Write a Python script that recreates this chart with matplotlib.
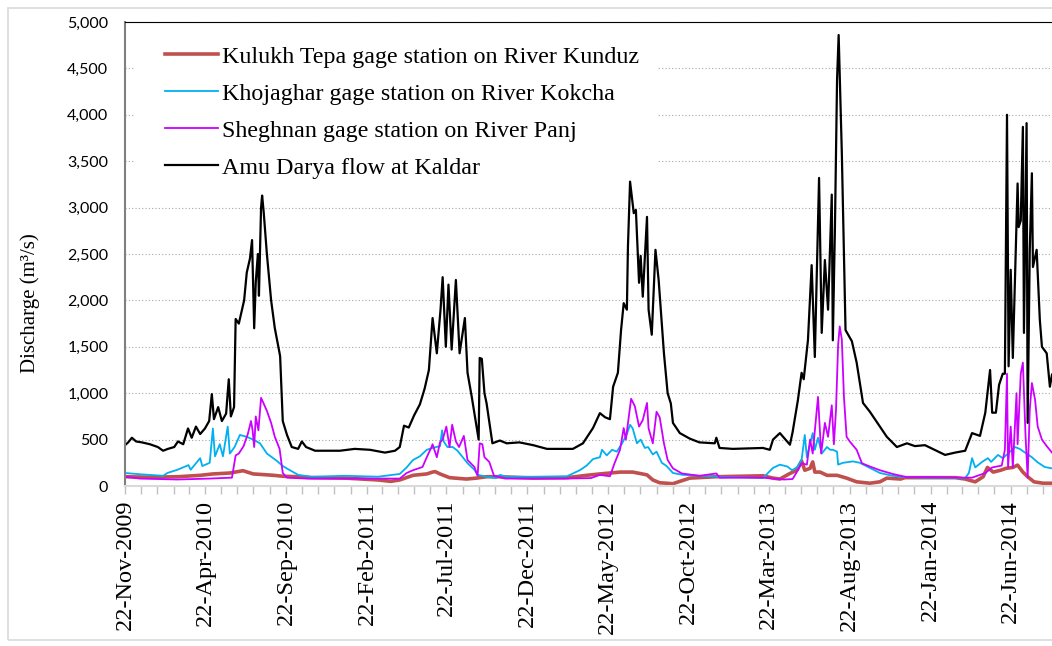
import matplotlib
matplotlib.use("Agg")
import matplotlib.dates as mdates
import matplotlib.pyplot as plt
import pandas as pd
from matplotlib.patches import Rectangle
from matplotlib.ticker import FuncFormatter, MultipleLocator

# Amu Darya flow at Kaldar (m3/s)
kaldar_dates = [
    "2009-11-22", "2009-11-28", "2009-12-05", "2009-12-13", "2009-12-24", "2010-01-08",
    "2010-01-23", "2010-02-02", "2010-02-11", "2010-02-23", "2010-03-02", "2010-03-12",
    "2010-03-21", "2010-03-28", "2010-04-05", "2010-04-13", "2010-04-22", "2010-04-30",
    "2010-05-05", "2010-05-09", "2010-05-17", "2010-05-24", "2010-06-01", "2010-06-06",
    "2010-06-10", "2010-06-16", "2010-06-19", "2010-06-25", "2010-07-05", "2010-07-10",
    "2010-07-16", "2010-07-20", "2010-07-24", "2010-07-27", "2010-07-31", "2010-08-02",
    "2010-08-06", "2010-08-08", "2010-08-11", "2010-08-17", "2010-08-25", "2010-09-01",
    "2010-09-11", "2010-09-16", "2010-09-24", "2010-10-03", "2010-10-15", "2010-10-22",
    "2010-10-30", "2010-11-16", "2011-01-02", "2011-01-30", "2011-02-28", "2011-03-28",
    "2011-04-16", "2011-04-25", "2011-05-03", "2011-05-12", "2011-05-22", "2011-06-02",
    "2011-06-11", "2011-06-19", "2011-06-26", "2011-07-04", "2011-07-11", "2011-07-15",
    "2011-07-21", "2011-07-26", "2011-08-01", "2011-08-09", "2011-08-16", "2011-08-26",
    "2011-08-31", "2011-09-08", "2011-09-21", "2011-09-23", "2011-09-27", "2011-10-02",
    "2011-10-06", "2011-10-17", "2011-10-31", "2011-11-13", "2011-12-07", "2012-01-02",
    "2012-01-28", "2012-03-17", "2012-04-05", "2012-04-24", "2012-05-07", "2012-05-17",
    "2012-05-26", "2012-06-01", "2012-06-10", "2012-06-16", "2012-06-21", "2012-06-27",
    "2012-06-29", "2012-07-03", "2012-07-10", "2012-07-14", "2012-07-20", "2012-07-23",
    "2012-07-27", "2012-08-04", "2012-08-07", "2012-08-13", "2012-08-20", "2012-08-26",
    "2012-09-05", "2012-09-12", "2012-09-18", "2012-09-22", "2012-10-05", "2012-10-24",
    "2012-11-11", "2012-12-10", "2012-12-13", "2012-12-19", "2013-01-13", "2013-03-11",
    "2013-03-24", "2013-03-30", "2013-04-12", "2013-05-01", "2013-05-06", "2013-05-16",
    "2013-05-23", "2013-05-27", "2013-06-04", "2013-06-11", "2013-06-17", "2013-06-25",
    "2013-06-30", "2013-07-06", "2013-07-12", "2013-07-19", "2013-07-21", "2013-07-25",
    "2013-07-29", "2013-08-01", "2013-08-07", "2013-08-14", "2013-08-26", "2013-09-04",
    "2013-09-16", "2013-09-29", "2013-10-18", "2013-10-31", "2013-11-19", "2013-12-08",
    "2013-12-23", "2014-01-11", "2014-02-18", "2014-03-09", "2014-03-28", "2014-04-10",
    "2014-04-25", "2014-05-05", "2014-05-14", "2014-05-18", "2014-05-25", "2014-05-31",
    "2014-06-07", "2014-06-11", "2014-06-15", "2014-06-18", "2014-06-22", "2014-06-26",
    "2014-07-05", "2014-07-07", "2014-07-11", "2014-07-15", "2014-07-17", "2014-07-22",
    "2014-07-24", "2014-07-28", "2014-08-01", "2014-08-03", "2014-08-10", "2014-08-16",
    "2014-08-20", "2014-08-29", "2014-09-04", "2014-09-08",
]
kaldar_q = [
    440, 470, 520, 480, 470, 450,
    420, 380, 400, 420, 480, 450,
    620, 520, 640, 560, 620, 700,
    990, 720, 850, 700, 780, 1150,
    750, 850, 1800, 1750, 2000, 2300,
    2450, 2650, 1700, 2200, 2500, 2050,
    3000, 3130, 2950, 2500, 2000, 1700,
    1400, 700, 550, 420, 400, 480,
    420, 380, 380, 400, 390, 360,
    380, 420, 650, 630, 760, 880,
    1050, 1250, 1810, 1430, 1900, 2250,
    1500, 2170, 1470, 2220, 1430, 1810,
    1220, 960, 500, 1380, 1370, 1000,
    890, 460, 490, 460, 470, 440,
    400, 400, 460, 625, 785, 740,
    720, 1070, 1220, 1680, 1970, 1900,
    2580, 3280, 2940, 2975, 2190, 2480,
    2040, 2900, 1900, 1630, 2545, 2220,
    1430, 1000, 890, 680, 570, 510,
    470, 460, 520, 410, 400, 410,
    390, 500, 570, 445, 580, 925,
    1220, 1150, 1570, 2380, 1390, 3320,
    1650, 2435, 1900, 3140, 1570, 2790,
    4380, 4860, 3590, 1680, 1560, 1330,
    895, 800, 640, 530, 420, 460,
    430, 440, 335, 360, 380, 570,
    540, 790, 1250, 790, 790, 1090,
    1210, 1210, 4000, 1290, 2330, 1380,
    3260, 2790, 2860, 3870, 1650, 3910,
    680, 2545, 3370, 2360, 2545, 1790,
    1500, 1430, 1070, 1200,
]

# Sheghnan gage station on River Panj
panj_dates = [
    "2009-11-22", "2009-12-20", "2010-03-01", "2010-05-01", "2010-06-12", "2010-06-19",
    "2010-06-25", "2010-07-04", "2010-07-12", "2010-07-18", "2010-07-21", "2010-07-24",
    "2010-07-27", "2010-08-01", "2010-08-06", "2010-08-10", "2010-08-17", "2010-08-25",
    "2010-09-01", "2010-09-10", "2010-09-16", "2010-09-24", "2010-11-01", "2011-02-01",
    "2011-04-25", "2011-05-08", "2011-05-20", "2011-06-07", "2011-06-15", "2011-06-24",
    "2011-06-26", "2011-07-04", "2011-07-10", "2011-07-15", "2011-07-22", "2011-07-28",
    "2011-08-02", "2011-08-09", "2011-08-15", "2011-08-24", "2011-08-31", "2011-09-13",
    "2011-09-19", "2011-09-23", "2011-09-28", "2011-10-02", "2011-10-11", "2011-10-20",
    "2011-11-10", "2012-03-01", "2012-04-20", "2012-05-07", "2012-05-26", "2012-06-04",
    "2012-06-14", "2012-06-21", "2012-06-25", "2012-07-05", "2012-07-12", "2012-07-20",
    "2012-07-27", "2012-08-04", "2012-08-07", "2012-08-15", "2012-08-22", "2012-08-28",
    "2012-09-05", "2012-09-12", "2012-09-22", "2012-10-09", "2012-11-11", "2012-12-13",
    "2012-12-19", "2013-03-11", "2013-04-20", "2013-05-06", "2013-05-16", "2013-05-23",
    "2013-06-02", "2013-06-08", "2013-06-13", "2013-06-23", "2013-06-29", "2013-07-06",
    "2013-07-12", "2013-07-19", "2013-07-23", "2013-07-27", "2013-07-31", "2013-08-03",
    "2013-08-07", "2013-08-11", "2013-08-16", "2013-08-22", "2013-09-04", "2013-09-14",
    "2013-09-29", "2013-10-18", "2013-11-11", "2013-12-08", "2014-01-11", "2014-03-28",
    "2014-04-10", "2014-05-05", "2014-05-18", "2014-06-05", "2014-06-11", "2014-06-15",
    "2014-06-17", "2014-06-22", "2014-06-26", "2014-07-03", "2014-07-05", "2014-07-11",
    "2014-07-15", "2014-07-20", "2014-07-24", "2014-07-28", "2014-08-01", "2014-08-07",
    "2014-08-12", "2014-08-20", "2014-08-29", "2014-09-08",
]
panj_q = [
    100, 80, 70, 80, 90, 330,
    350, 430, 560, 700, 600, 420,
    750, 600, 950, 900, 810, 680,
    530, 400, 140, 90, 80, 80,
    80, 140, 170, 205, 310, 420,
    450, 310, 470, 500, 640, 420,
    660, 480, 420, 540, 280, 205,
    110, 460, 450, 310, 260, 110,
    80, 80, 85, 120, 105, 250,
    390, 625, 500, 940, 860, 640,
    710, 895, 620, 460, 800, 740,
    460, 280, 190, 135, 110, 135,
    90, 90, 70, 75, 170, 245,
    230, 500, 350, 960, 350, 680,
    530, 870, 450, 820, 1520, 1720,
    1580, 960, 530, 480, 390, 245,
    210, 170, 130, 95, 95, 90,
    90, 140, 200, 220, 390, 1210,
    200, 640, 200, 1000, 450, 1210,
    1330, 540, 90, 820, 1110, 930,
    640, 500, 430, 360,
]

# Khojaghar gage station on River Kokcha
kokcha_dates = [
    "2009-11-22", "2009-12-24", "2010-02-02", "2010-02-10", "2010-03-01", "2010-03-22",
    "2010-03-26", "2010-04-13", "2010-04-17", "2010-05-01", "2010-05-07", "2010-05-11",
    "2010-05-20", "2010-05-26", "2010-06-04", "2010-06-08", "2010-06-17", "2010-06-27",
    "2010-07-10", "2010-07-22", "2010-08-04", "2010-08-17", "2010-09-05", "2010-09-16",
    "2010-09-28", "2010-10-15", "2010-11-09", "2011-01-12", "2011-03-15", "2011-04-25",
    "2011-05-08", "2011-05-20", "2011-06-02", "2011-06-15", "2011-06-26", "2011-07-10",
    "2011-07-14", "2011-07-17", "2011-07-24", "2011-08-03", "2011-08-12", "2011-08-22",
    "2011-08-31", "2011-09-13", "2011-09-19", "2011-10-06", "2011-10-24", "2011-10-31",
    "2011-11-13", "2012-01-02", "2012-03-06", "2012-03-30", "2012-04-12", "2012-04-24",
    "2012-05-07", "2012-05-11", "2012-05-20", "2012-05-30", "2012-06-08", "2012-06-18",
    "2012-06-27", "2012-07-03", "2012-07-08", "2012-07-16", "2012-07-23", "2012-07-31",
    "2012-08-06", "2012-08-15", "2012-08-22", "2012-09-01", "2012-09-10", "2012-09-22",
    "2012-10-11", "2012-11-11", "2012-12-19", "2013-03-11", "2013-03-30", "2013-04-12",
    "2013-04-26", "2013-05-05", "2013-05-14", "2013-05-23", "2013-05-29", "2013-06-02",
    "2013-06-08", "2013-06-13", "2013-06-17", "2013-06-23", "2013-06-30", "2013-07-10",
    "2013-07-16", "2013-07-21", "2013-07-29", "2013-07-31", "2013-08-09", "2013-08-28",
    "2013-09-10", "2013-09-29", "2013-10-18", "2013-11-11", "2013-12-08", "2014-01-11",
    "2014-03-28", "2014-04-04", "2014-04-10", "2014-04-16", "2014-04-29", "2014-05-10",
    "2014-05-16", "2014-05-29", "2014-06-07", "2014-06-17", "2014-06-30", "2014-07-09",
    "2014-07-19", "2014-08-01", "2014-08-12", "2014-08-25", "2014-09-08",
]
kokcha_q = [
    140, 125, 110, 140, 175, 225,
    175, 300, 215, 250, 620, 320,
    450, 320, 640, 350, 420, 550,
    530, 500, 460, 350, 270, 215,
    175, 120, 100, 110, 100, 130,
    200, 280, 320, 390, 410, 430,
    600, 480, 420, 420, 380, 310,
    245, 175, 120, 100, 85, 120,
    100, 100, 105, 170, 220, 290,
    310, 390, 330, 390, 370, 460,
    560, 660, 620, 460, 500, 410,
    420, 340, 370, 250, 215, 140,
    120, 110, 100, 85, 195, 230,
    210, 170, 200, 280, 550, 310,
    450, 570, 390, 520, 350, 420,
    390, 390, 370, 230, 250, 265,
    250, 195, 140, 110, 95, 90,
    85, 140, 300, 200, 260, 300,
    260, 335, 300, 350, 420, 400,
    360, 310, 255, 205, 190,
]

# Kulukh Tepa gage station on River Kunduz
kunduz_dates = [
    "2009-11-22", "2010-01-08", "2010-03-02", "2010-04-13", "2010-05-07", "2010-06-08",
    "2010-07-03", "2010-07-22", "2010-08-05", "2010-08-30", "2010-09-16", "2010-10-15",
    "2010-11-09", "2011-01-12", "2011-03-15", "2011-04-08", "2011-04-25", "2011-05-20",
    "2011-06-15", "2011-06-26", "2011-07-01", "2011-07-10", "2011-07-28", "2011-08-29",
    "2011-09-17", "2011-10-06", "2011-10-31", "2012-01-02", "2012-03-06", "2012-04-12",
    "2012-05-07", "2012-06-14", "2012-07-08", "2012-08-04", "2012-08-15", "2012-08-28",
    "2012-09-22", "2012-10-05", "2012-10-24", "2012-12-13", "2013-03-11", "2013-03-30",
    "2013-04-12", "2013-05-01", "2013-05-14", "2013-05-23", "2013-05-29", "2013-06-08",
    "2013-06-13", "2013-06-17", "2013-06-27", "2013-07-10", "2013-07-29", "2013-08-16",
    "2013-09-04", "2013-09-29", "2013-10-18", "2013-10-31", "2013-11-26", "2013-12-04",
    "2014-03-09", "2014-03-28", "2014-04-16", "2014-05-01", "2014-05-09", "2014-05-20",
    "2014-06-03", "2014-06-13", "2014-06-26", "2014-07-05", "2014-07-15", "2014-07-24",
    "2014-08-05", "2014-08-22", "2014-09-08",
]
kunduz_q = [
    100, 95, 100, 115, 130, 140,
    165, 130, 125, 115, 105, 100,
    90, 85, 65, 50, 65, 115,
    130, 150, 155, 130, 90, 75,
    85, 100, 100, 85, 90, 115,
    130, 150, 150, 120, 65, 35,
    25, 50, 85, 100, 110, 85,
    75, 135, 170, 270, 170, 190,
    260, 150, 150, 115, 115, 85,
    45, 30, 45, 85, 75, 90,
    90, 75, 45, 100, 200, 150,
    170, 190, 200, 225, 150, 100,
    45, 30, 30,
]

tick_dates = [
    "2009-11-22", "2010-04-22", "2010-09-22", "2011-02-22", "2011-07-22", "2011-12-22",
    "2012-05-22", "2012-10-22", "2013-03-22", "2013-08-22", "2014-01-22", "2014-06-22",
]

SERIF = "Liberation Serif"

fig = plt.figure(figsize=(10.52, 6.46), dpi=100)
W, H = 1052, 646
ax = fig.add_axes([125 / W, 1 - 486 / H, 1 - 125 / W, (486 - 22) / H])

ax.plot(pd.to_datetime(kunduz_dates), kunduz_q, color="#C0504D", lw=2.6,
        label="Kulukh Tepa gage station on River Kunduz")
ax.plot(pd.to_datetime(kokcha_dates), kokcha_q, color="#00B0F0", lw=1.3,
        label="Khojaghar gage station on River Kokcha")
ax.plot(pd.to_datetime(panj_dates), panj_q, color="#CC00FF", lw=1.3,
        label="Sheghnan gage station on River Panj")
ax.plot(pd.to_datetime(kaldar_dates), kaldar_q, color="black", lw=1.6,
        label="Amu Darya flow at Kaldar")

ax.set_xlim(pd.Timestamp("2009-11-22"), pd.Timestamp("2014-09-08"))
ax.set_ylim(0, 5000)
ax.yaxis.set_major_locator(MultipleLocator(500))
ax.yaxis.set_major_formatter(FuncFormatter(lambda v, _: f"{int(v):,}"))
ax.set_axisbelow(True)
ax.grid(axis="y", color="#A6A6A6", lw=0.8, ls=(0, (1, 2)))

ax.set_xticks(pd.to_datetime(tick_dates))
ax.xaxis.set_major_formatter(mdates.DateFormatter("%d-%b-%Y"))
ax.xaxis.set_minor_locator(mdates.MonthLocator(bymonthday=22))
ax.tick_params(axis="x", which="both", direction="out", length=6, color="#BFBFBF", width=1)
ax.tick_params(axis="x", labelrotation=90, pad=4)
ax.tick_params(axis="y", length=0, pad=12)
for lab in ax.get_xticklabels():
    lab.set_fontfamily(SERIF)
    lab.set_fontsize(17.5)
for lab in ax.get_yticklabels():
    lab.set_fontfamily("Lato")
    lab.set_fontsize(11.5)

ax.spines["right"].set_visible(False)
ax.spines["top"].set_color("black")
ax.spines["top"].set_linewidth(0.8)
ax.spines["left"].set_color("#808080")
ax.spines["left"].set_linewidth(1.5)
ax.spines["bottom"].set_color("#D9D9D9")
ax.spines["bottom"].set_linewidth(1.5)

fig.text(30 / W, 1 - 303 / H, "Discharge (m³/s)", rotation=90, ha="center", va="center",
         fontfamily=SERIF, fontsize=15)

# white box behind the legend hides the gridlines, as in the original
ax.add_patch(Rectangle((135 / W, 1 - 186 / H), 522 / W, 154 / H, transform=fig.transFigure,
                       facecolor="white", edgecolor="none", zorder=1.5))
ax.legend(loc="upper left", bbox_to_anchor=(165 / W, 1 - 46 / H), bbox_transform=fig.transFigure,
          frameon=False, prop={"family": SERIF, "size": 17.3}, handlelength=2.2,
          handletextpad=0.17, labelspacing=0.63, borderpad=0, borderaxespad=0)

fig.patches.append(Rectangle((8 / W, 6 / H), 1.0, 1 - 14 / H, transform=fig.transFigure,
                             facecolor="none", edgecolor="#D9D9D9", lw=1.2))

fig.savefig("out.png", dpi=100)
